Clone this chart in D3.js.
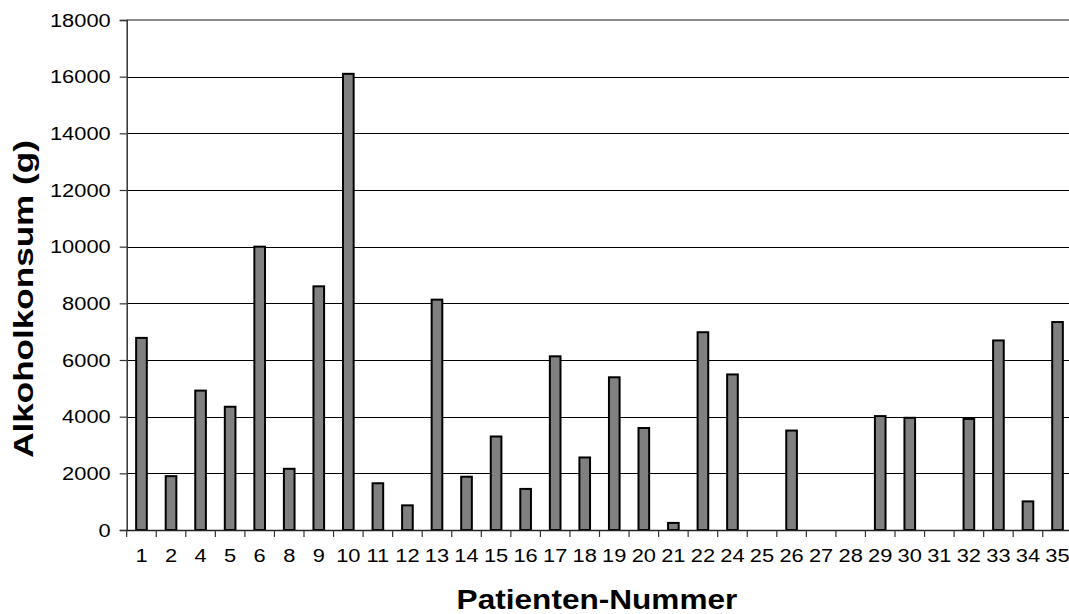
<!DOCTYPE html>
<html>
<head>
<meta charset="utf-8">
<script src="https://cdn.jsdelivr.net/npm/d3@7"></script>
<style>
  html, body { margin: 0; padding: 0; background: #fff; }
  svg { display: block; }
  text { font-family: "Liberation Sans", Arial, sans-serif; fill: #000; }
</style>
</head>
<body>
<svg id="chart" width="1069" height="614"></svg>
<script>
// Patient numbers (x categories)
const patients = ["1","2","4","5","6","8","9","10","11","12","13","14","15","16","17","18","19","20","21","22","24","25","26","27","28","29","30","31","32","33","34","35"];
// Alcohol consumption in grams per patient
const alcohol = [6780,1900,4920,4350,10000,2160,8600,16100,1650,870,8130,1880,3300,1450,6130,2560,5390,3600,250,6980,5490,0,3510,0,0,4020,3960,0,3920,6690,1010,7340];
// Y axis ticks
const yTicks = [0,2000,4000,6000,8000,10000,12000,14000,16000,18000];

const svg = d3.select("#chart");
const plotLeft = 126.7, plotRight = 1072.3, plotTop = 20, plotBottom = 530;

// Widen glyphs horizontally around the text's anchor point
function widen(sel, k) {
  sel.each(function () {
    const t = d3.select(this);
    const ax = +t.attr("x") || 0;
    t.attr("transform", `translate(${ax},0) scale(${k},1) translate(${-ax},0)`);
  });
}

const y = d3.scaleLinear().domain([0, 18000]).range([plotBottom, plotTop]);
const xOuter = d3.scaleBand().domain(patients).range([plotLeft, plotRight]).padding(0);
const x = d3.scaleBand().domain(patients).range([plotLeft, plotRight])
  .paddingInner(0.64).paddingOuter(0.32);

// Horizontal gridlines
svg.append("g").selectAll("line")
  .data(yTicks.filter(v => v > 0 && v < 18000))
  .join("line")
  .attr("x1", plotLeft).attr("x2", plotRight)
  .attr("y1", d => Math.round(y(d)) + 0.5).attr("y2", d => Math.round(y(d)) + 0.5)
  .attr("stroke", "#000").attr("stroke-width", 1);

// Top border of plot area
svg.append("line")
  .attr("x1", plotLeft).attr("x2", plotRight)
  .attr("y1", y(18000)).attr("y2", y(18000))
  .attr("stroke", "#8a8a8a").attr("stroke-width", 2);

// Bars
svg.append("g").selectAll("rect")
  .data(patients.map((p, i) => ({ p, v: alcohol[i] })).filter(d => d.v > 0))
  .join("rect")
  .attr("x", d => x(d.p))
  .attr("width", x.bandwidth())
  .attr("y", d => y(d.v))
  .attr("height", d => y(0) - y(d.v))
  .attr("fill", "#808080")
  .attr("stroke", "#000")
  .attr("stroke-width", 2);

// Y axis
const yAxis = svg.append("g")
  .attr("transform", `translate(${plotLeft},0)`)
  .call(d3.axisLeft(y).tickValues(yTicks).tickSize(7).tickPadding(9).tickFormat(d3.format("d")));
yAxis.select(".domain").attr("stroke", "#333").attr("stroke-width", 1.5);
yAxis.selectAll(".tick line").attr("stroke", "#333").attr("stroke-width", 1.2);
yAxis.selectAll("text").attr("font-size", 19).attr("fill", "#000")
  .attr("font-family", "Liberation Sans, Arial, sans-serif");
widen(yAxis.selectAll("text"), 1.15);

// X axis: labels centered in each category
const xAxis = svg.append("g")
  .attr("transform", `translate(0,${plotBottom})`)
  .call(d3.axisBottom(xOuter).tickSize(0).tickPadding(19));
xAxis.select(".domain").attr("stroke", "#222").attr("stroke-width", 1.5);
xAxis.selectAll("text").attr("font-size", 19).attr("fill", "#000")
  .attr("font-family", "Liberation Sans, Arial, sans-serif");
widen(xAxis.selectAll("text"), 1.15);

// Tick marks on category boundaries
const bounds = patients.map(p => xOuter(p)).concat([plotRight]);
svg.append("g").selectAll("line")
  .data(bounds)
  .join("line")
  .attr("x1", d => d).attr("x2", d => d)
  .attr("y1", plotBottom).attr("y2", plotBottom + 7)
  .attr("stroke", "#333").attr("stroke-width", 1.2);

// Axis titles
const xTitle = svg.append("text")
  .attr("x", 597).attr("y", 609)
  .attr("text-anchor", "middle")
  .attr("font-size", 27).attr("font-weight", "bold")
  .text("Patienten-Nummer");
widen(xTitle, 1.17);

svg.append("g")
  .attr("transform", "translate(33,299) rotate(-90)")
  .append("text")
  .attr("x", 0).attr("y", 0)
  .attr("text-anchor", "middle")
  .attr("font-size", 27).attr("font-weight", "bold")
  .attr("transform", "scale(1.3,1)")
  .text("Alkoholkonsum (g)");
</script>
</body>
</html>
